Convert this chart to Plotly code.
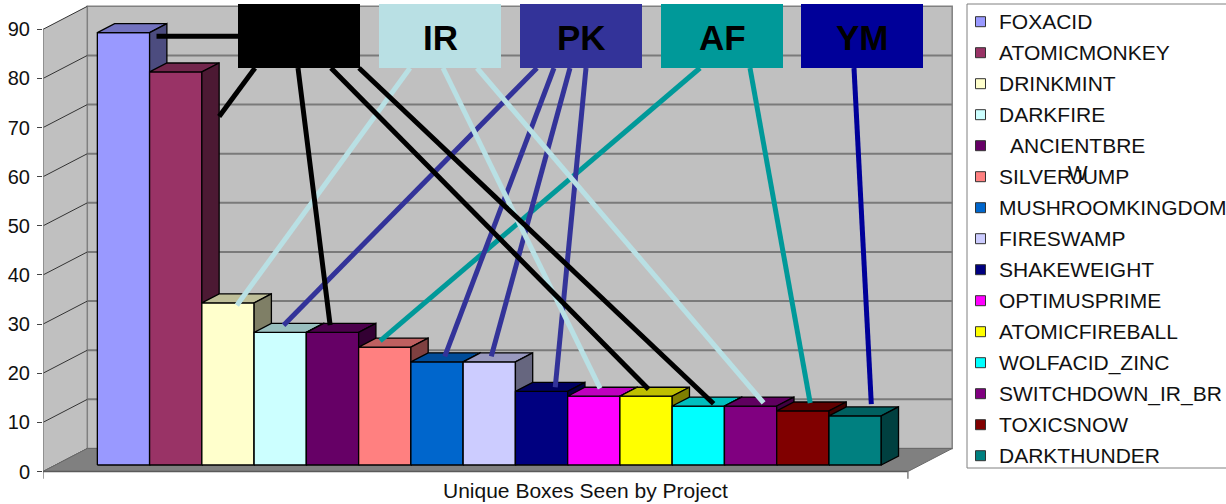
import plotly.graph_objects as go

# ---------------- data ----------------
project_names = ["FOXACID", "ATOMICMONKEY", "DRINKMINT", "DARKFIRE", "ANCIENTBREW",
                 "SILVERJUMP", "MUSHROOMKINGDOM", "FIRESWAMP", "SHAKEWEIGHT",
                 "OPTIMUSPRIME", "ATOMICFIREBALL", "WOLFACID_ZINC", "SWITCHDOWN_IR_BR",
                 "TOXICSNOW", "DARKTHUNDER"]
unique_boxes = [88, 80, 33, 27, 27, 24, 21, 21, 15, 14, 14, 12, 12, 11, 10]
legend_labels = ["FOXACID", "ATOMICMONKEY", "DRINKMINT", "DARKFIRE", "ANCIENTBRE<br>W",
                 "SILVERJUMP", "MUSHROOMKINGDOM", "FIRESWAMP", "SHAKEWEIGHT",
                 "OPTIMUSPRIME", "ATOMICFIREBALL", "WOLFACID_ZINC", "SWITCHDOWN_IR_BR",
                 "TOXICSNOW", "DARKTHUNDER"]
group_labels = ["", "IR", "PK", "AF", "YM"]
bar_group = [0, 0, 1, 2, 0, 3, 2, 2, 2, 1, 0, 0, 1, 3, 4]
y_ticks = [0, 10, 20, 30, 40, 50, 60, 70, 80, 90]
axis_title = "Unique Boxes Seen by Project"

# ---------------- styles ----------------
bar_colors = ["#9999ff", "#993366", "#ffffcc", "#ccffff", "#660066", "#ff8080",
              "#0066cc", "#ccccff", "#000080", "#ff00ff", "#ffff00", "#00ffff",
              "#800080", "#800000", "#008080"]
group_colors = ["#000000", "#b9e0e4", "#333399", "#009999", "#000099"]
FONT = "Liberation Sans, Arial, sans-serif"

# ---------------- geometry (layout) ----------------
W, H = 1226, 504
PL, PR, PT, PB = 43, 960, 2, 482      # plot area in px
XU = 52.26                            # px per bar slot
VU = 4.913                            # px per value unit
Y0 = 471.5                            # px of value 0 on front plane
XRANGE = [0, (PR - PL) / XU]
VRANGE = [(Y0 - PB) / VU, (Y0 - PT) / VU]
DX, DV = 44.3 / XU, 23.0 / VU         # full depth vector of the floor
FLOOR_W = 16.55                        # floor width in slots
BAR_X0 = 0.80                          # first bar left edge (front plane)
F0 = 0.283                             # depth of bar fronts
FB = 0.39                              # bar depth fraction
WALL_TOP = 90

BOX_LEFT_PX = [238, 379, 520, 661, 801]
BOX_W_PX = 122
BOX_TOP_PX, BOX_BOT_PX = 4, 68

# link geometry per bar: start px on box bottom ("left" = horizontal from box side),
# u = fraction across front, t = fraction of depth, drop = units below top
LINK_GEOM = {
    0: ("left", 1.0, 0.4, 1.47),
    1: (255, 1.0, 1.0, 10.9),
    2: (410, 0.67, 0.0, 0.5),
    3: (537, 0.30, 0.8, 0.0),
    4: (298, 0.19, 0.8, 0.0),
    5: (700, 0.18, 0.7, 0.0),
    6: (554, 0.45, 0.6, 0.0),
    7: (570, 0.34, 0.6, 0.0),
    8: (586, 0.61, 0.46, 0.0),
    9: (443, 0.33, 0.88, 0.0),
    10: (331, 0.29, 0.78, 0.0),
    11: (359, 0.71, 0.25, 0.0),
    12: (477, 0.63, 0.36, 0.0),
    13: (750, 0.35, 0.88, 0.0),
    14: (854, 0.38, 1.3, 0.0),
}


def px2x(px):
    return (px - PL) / XU


def px2v(py):
    return (Y0 - py) / VU


def xp(px):
    return (px - PL) / (PR - PL)


def yp(py):
    return (PB - py) / (PB - PT)


def shade(hexcol, f):
    h = hexcol.lstrip("#")
    r, g, b = (int(h[i:i + 2], 16) for i in (0, 2, 4))
    return "#%02x%02x%02x" % (int(r * f), int(g * f), int(b * f))


def path(pts):
    return "M " + " L ".join("%f,%f" % p for p in pts) + " Z"


shapes = []
# left wall
shapes.append(dict(type="path", xref="x", yref="y", layer="below",
                   path=path([(0, 0), (DX, DV), (DX, WALL_TOP + DV), (0, WALL_TOP)]),
                   fillcolor="#c0c0c0", line=dict(width=0)))
# back wall
shapes.append(dict(type="rect", xref="x", yref="y", layer="below",
                   x0=DX, x1=FLOOR_W + DX, y0=DV, y1=WALL_TOP + DV,
                   fillcolor="#c0c0c0", line=dict(color="#808080", width=1.5)))
# back wall grid lines
for v in y_ticks[1:-1]:
    shapes.append(dict(type="line", xref="x", yref="y", layer="below",
                       x0=DX, x1=FLOOR_W + DX, y0=v + DV, y1=v + DV,
                       line=dict(color="#7a7a7a", width=2)))
# left wall oblique grid lines
for v in y_ticks:
    shapes.append(dict(type="line", xref="x", yref="y", layer="below",
                       x0=0, x1=DX, y0=v, y1=v + DV,
                       line=dict(color="#333333", width=1)))
# floor
shapes.append(dict(type="path", xref="x", yref="y", layer="below",
                   path=path([(0, 0), (DX, DV), (FLOOR_W + DX, DV), (FLOOR_W, 0)]),
                   fillcolor="#808080", line=dict(color="#6a6a6a", width=1)))
# front axis line and small end ticks
shapes.append(dict(type="line", xref="x", yref="y", layer="below",
                   x0=0, x1=0, y0=-1.5, y1=WALL_TOP, line=dict(color="#808080", width=1.5)))
shapes.append(dict(type="line", xref="x", yref="y", layer="below",
                   x0=0, x1=FLOOR_W, y0=0, y1=0, line=dict(color="#5a5a5a", width=1.5)))
shapes.append(dict(type="line", xref="x", yref="y", layer="below",
                   x0=FLOOR_W, x1=FLOOR_W, y0=0, y1=-1.5, line=dict(color="#808080", width=1.5)))

fig = go.Figure()

ddx, ddv = FB * DX, FB * DV
base = F0 * DV
bar_geo = []
for i, (name, val, col) in enumerate(zip(project_names, unique_boxes, bar_colors)):
    x0 = BAR_X0 + i + F0 * DX
    x1 = x0 + 1
    top = base + val
    bar_geo.append((x0, x1, top))
    faces = [
        ([x0, x1, x1, x0, x0], [base, base, top, top, base], col),
        ([x0, x1, x1 + ddx, x0 + ddx, x0], [top, top, top + ddv, top + ddv, top], shade(col, 0.75)),
        ([x1, x1 + ddx, x1 + ddx, x1, x1], [base, base + ddv, top + ddv, top, base], shade(col, 0.5)),
    ]
    for fx, fy, fc in faces:
        fig.add_trace(go.Scatter(x=fx, y=fy, mode="lines", fill="toself", fillcolor=fc,
                                 line=dict(color="#000000", width=1.3),
                                 hoverinfo="text", text="%s: %d" % (name, val),
                                 showlegend=False))

# connector lines
for i, g in enumerate(bar_group):
    start, u, t, drop = LINK_GEOM[i]
    x0, x1, top = bar_geo[i]
    ex = x0 + u * (x1 - x0) + t * ddx
    ev = top + t * ddv - drop
    if start == "left":
        sx, sv = px2x(BOX_LEFT_PX[g]), ev
    else:
        sx, sv = px2x(start), px2v(BOX_BOT_PX)
    fig.add_trace(go.Scatter(x=[sx, ex], y=[sv, ev], mode="lines",
                             line=dict(color=group_colors[g], width=5),
                             hoverinfo="skip", showlegend=False))

annotations = []
# project boxes
for g, (lab, col) in enumerate(zip(group_labels, group_colors)):
    bx0, bx1 = px2x(BOX_LEFT_PX[g]), px2x(BOX_LEFT_PX[g] + BOX_W_PX)
    by0, by1 = px2v(BOX_BOT_PX), px2v(BOX_TOP_PX)
    shapes.append(dict(type="rect", xref="x", yref="y", layer="above",
                       x0=bx0, x1=bx1, y0=by0, y1=by1, fillcolor=col, line=dict(width=0)))
    if lab:
        annotations.append(dict(x=(bx0 + bx1) / 2, y=(by0 + by1) / 2 - 0.3, xref="x", yref="y",
                                text=lab, showarrow=False, xanchor="center", yanchor="middle",
                                font=dict(family=FONT, size=35, color="#000000", weight="bold")))

# manual legend
shapes.append(dict(type="rect", xref="paper", yref="paper",
                   x0=xp(967), x1=xp(1245), y0=yp(468), y1=yp(4),
                   fillcolor="#ffffff", line=dict(color="#808080", width=1)))
for i, (lab, col) in enumerate(zip(legend_labels, bar_colors)):
    yc = 21.7 + 31 * i
    shapes.append(dict(type="rect", xref="paper", yref="paper",
                       x0=xp(975.5), x1=xp(985.5), y0=yp(yc + 5), y1=yp(yc - 5),
                       fillcolor=col, line=dict(color="#333333", width=1)))
    if "<br>" in lab:
        annotations.append(dict(x=xp(1077), y=yp(yc + 13), xref="paper", yref="paper",
                                text=lab, showarrow=False, xanchor="center", yanchor="middle",
                                align="center",
                                font=dict(family=FONT, size=21, color="#111111")))
    else:
        annotations.append(dict(x=xp(997), y=yp(yc), xref="paper", yref="paper",
                                text=lab, showarrow=False, xanchor="left", yanchor="middle",
                                font=dict(family=FONT, size=21, color="#111111")))

# x axis title
annotations.append(dict(x=xp(585), y=yp(490), xref="paper", yref="paper", text=axis_title,
                        showarrow=False, xanchor="center", yanchor="middle",
                        font=dict(family=FONT, size=21, color="#111111")))

fig.update_layout(
    template="none",
    width=W, height=H, autosize=False,
    margin=dict(l=PL, r=W - PR, t=PT, b=H - PB, pad=0),
    paper_bgcolor="#ffffff", plot_bgcolor="rgba(0,0,0,0)",
    font=dict(family=FONT, size=20, color="#111111"),
    showlegend=False,
    shapes=shapes, annotations=annotations,
    xaxis=dict(range=XRANGE, showgrid=False, zeroline=False, showline=False,
               showticklabels=False, ticks="", automargin=False, fixedrange=True),
    yaxis=dict(range=VRANGE, tickvals=y_ticks, ticktext=[str(v) for v in y_ticks],
               ticks="outside", ticklen=5, tickwidth=1, tickcolor="#444444",
               ticklabelstandoff=3,
               showgrid=False, zeroline=False, showline=False, automargin=False,
               tickfont=dict(family=FONT, size=20, color="#111111"), fixedrange=True),
)

fig.write_html("out.html", config={"displayModeBar": False})
